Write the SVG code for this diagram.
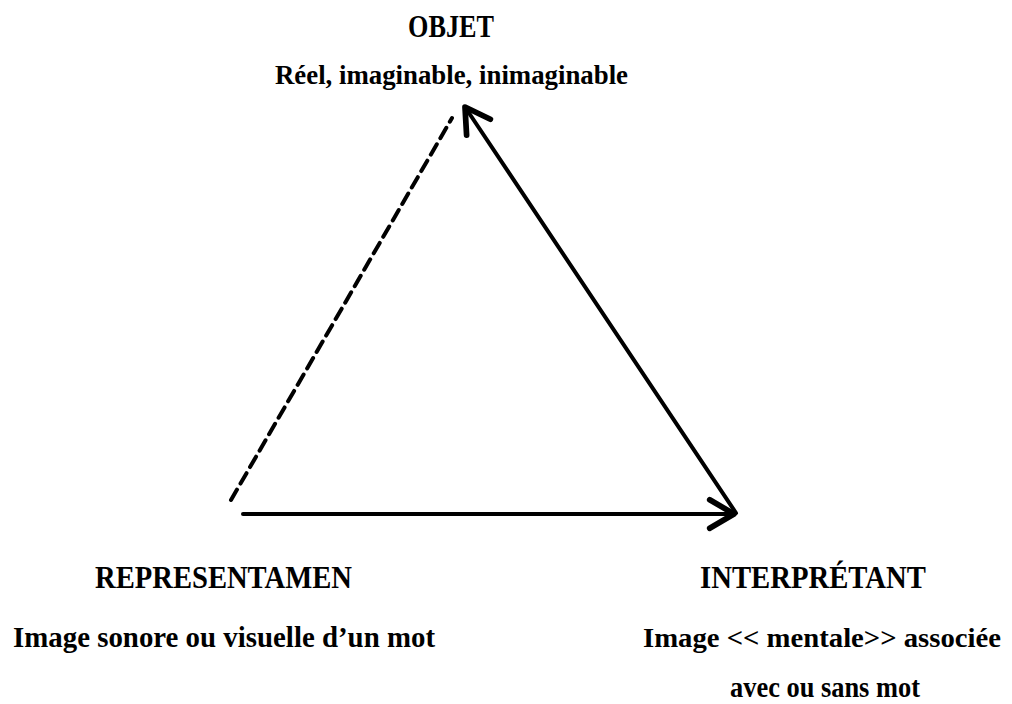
<svg xmlns="http://www.w3.org/2000/svg" width="1012" height="704" viewBox="0 0 1012 704">
<defs>
<style>
.t{font-family:"Liberation Serif","Times New Roman",serif;font-weight:bold;fill:#000;text-anchor:start}
.h{font-size:31px}
.m{font-size:30px}
.s{font-size:27px}
.n{font-size:28px}
.ln{stroke:#000;stroke-width:4;fill:none;stroke-linecap:round}
</style>
<marker id="arr" markerUnits="userSpaceOnUse" markerWidth="40" markerHeight="40" refX="0" refY="0" viewBox="-24 -14 28 28" orient="auto" overflow="visible">
<path d="M-17,-10 L0,0 L-17,10" fill="none" stroke="#000" stroke-width="4" stroke-linecap="round" stroke-linejoin="round"/>
</marker>
</defs>
<rect width="1012" height="704" fill="#fff"/>
<g id="connectors">
<line class="ln" x1="231" y1="500" x2="452" y2="118" stroke-dasharray="12 7" stroke-linecap="butt"/>
<line class="ln" x1="736" y1="513" x2="465" y2="107" marker-end="url(#arr)"/>
<line class="ln" x1="243" y1="514" x2="734" y2="514" marker-end="url(#arr)"/>
</g>
<g id="objet">
<text class="t h" x="408" y="37" textLength="86" lengthAdjust="spacingAndGlyphs">OBJET</text>
<text class="t s" x="275" y="84" textLength="353" lengthAdjust="spacingAndGlyphs">Réel, imaginable, inimaginable</text>
</g>
<g id="representamen">
<text class="t h" x="95" y="588" textLength="257" lengthAdjust="spacingAndGlyphs">REPRESENTAMEN</text>
<text class="t m" x="13" y="647" textLength="422" lengthAdjust="spacingAndGlyphs">Image sonore ou visuelle d’un mot</text>
</g>
<g id="interpretant">
<text class="t h" x="700" y="588" textLength="226" lengthAdjust="spacingAndGlyphs">INTERPRÉTANT</text>
<text class="t n" x="643" y="647" textLength="358" lengthAdjust="spacingAndGlyphs">Image &lt;&lt; mentale&gt;&gt; associée</text>
<text class="t m" x="730" y="697" textLength="190" lengthAdjust="spacingAndGlyphs">avec ou sans mot</text>
</g>
</svg>
